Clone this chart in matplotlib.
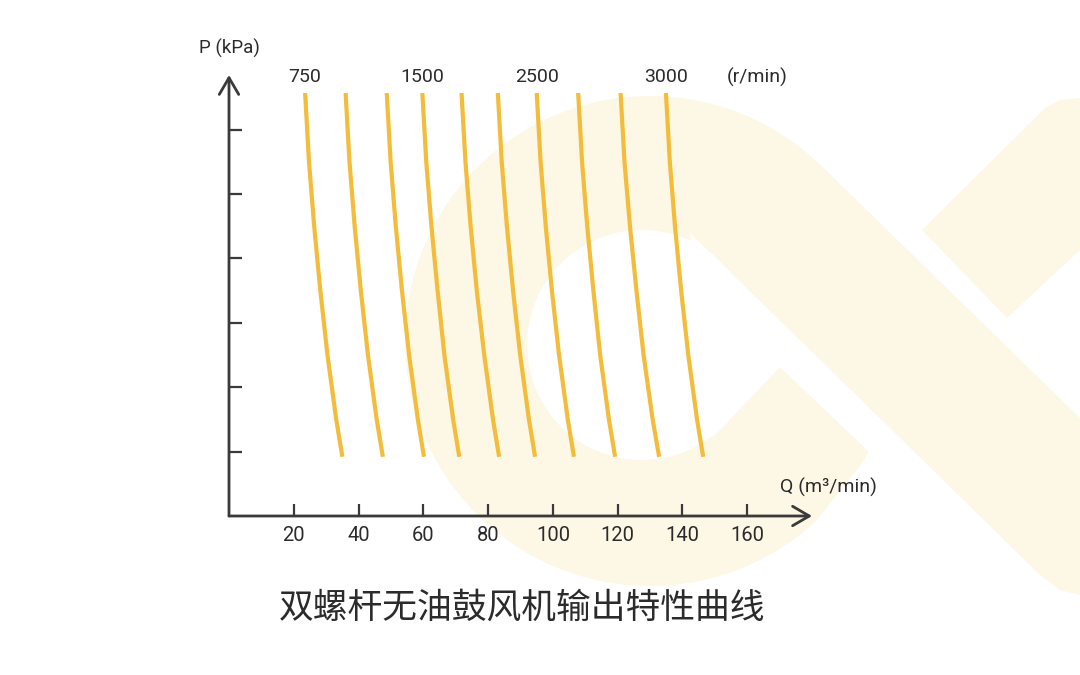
# twin-screw oil-free blower output curves, redrawn from the reference image

import matplotlib
matplotlib.use("Agg")
import matplotlib.pyplot as plt
from matplotlib.patches import Circle, Polygon

# pressure levels shared by every curve (kPa axis, unlabeled)
pressure = [6.57, 5.5, 4.5, 3.5, 2.5, 1.5, 0.92]

# flow (m3/min), top to bottom
flow_curves = [
    [23.5, 24.7, 26.3, 28.2, 30.4, 33.1, 35.0],
    [36.0, 37.2, 38.8, 40.7, 42.9, 45.6, 47.5],
    [48.7, 49.9, 51.5, 53.4, 55.6, 58.3, 60.2],
    [59.7, 60.9, 62.5, 64.4, 66.5, 69.2, 71.1],
    [71.8, 73.0, 74.6, 76.5, 78.8, 81.5, 83.4],
    [83.0, 84.2, 85.8, 87.7, 89.9, 92.6, 94.5],
    [95.0, 96.2, 97.8, 99.7, 101.9, 104.6, 106.5],
    [107.8, 109.0, 110.6, 112.5, 114.6, 117.3, 119.2],
    [120.9, 122.1, 123.8, 125.8, 128.0, 130.8, 132.8],
    [134.9, 136.1, 137.7, 139.6, 141.8, 144.5, 146.4],
]

# speed labels and the curve each one sits over
speed_labels = ["750", "1500", "2500", "3000"]
speed_label_curve = [0, 3, 6, 9]

x_ticks = [20, 40, 60, 80, 100, 120, 140, 160]
y_ticks = [1, 2, 3, 4, 5, 6]

title = "双螺杆无油鼓风机输出特性曲线"

curve_color = "#F3BC3B"
axis_color = "#3a3a3a"
text_color = "#2b2b2b"
wm_color = "#FDF7E6"
num_font = ["Roboto", "DejaVu Sans"]

fig = plt.figure(figsize=(10.8, 6.75), dpi=100, facecolor="white")

# faint logo watermark behind the chart, in pixel coordinates
bg = fig.add_axes([0, 0, 1, 1], zorder=0)
bg.set_xlim(0, 1080)
bg.set_ylim(675, 0)
bg.axis("off")
bg.add_patch(Circle((650, 341), 245, color=wm_color, lw=0))
bg.add_patch(Circle((642, 345), 115, color="white", lw=0))
bg.add_patch(Polygon([(713, 437), (780, 367), (700, 291), (660, 400)], color="white", lw=0))
bg.add_patch(Polygon([(690, 233), (950, 486), (950, 529), (700, 291)], color="white", lw=0))
bg.add_patch(Polygon([(870, 453), (960, 540), (880, 640), (793, 550)], color="white", lw=0))
bg.add_patch(Polygon([(821, 165.5), (1100, 437.5), (1100, 600), (1060, 590),
                      (1040, 575), (700, 242)], color=wm_color, lw=0))
bg.add_patch(Polygon([(922, 230), (1007, 318), (1080, 250), (1080, 98),
                      (1060, 100), (1045, 108)], color=wm_color, lw=0))

# main chart
ax = fig.add_axes([229 / 1080, 1 - 516 / 675, 583 / 1080, 441 / 675], zorder=1)
ax.set_facecolor("none")
ax.set_xlim(0, 180)
ax.set_ylim(0, 6.85)

for q in flow_curves:
    ax.plot(q, pressure, color=curve_color, lw=3, solid_capstyle="butt")

for lab, idx in zip(speed_labels, speed_label_curve):
    ax.text(flow_curves[idx][0], 6.82, lab, ha="center", va="center",
            fontsize=14, color=text_color, family=num_font)
ax.text(163, 6.82, "(r/min)", ha="center", va="center",
        fontsize=14, color=text_color, family=num_font)

for s in ax.spines.values():
    s.set_visible(False)

arrow = dict(arrowstyle="->,head_length=0.6,head_width=0.35", lw=2,
             color=axis_color, shrinkA=0, shrinkB=0, mutation_scale=20)
ax.annotate("", xy=(1, 0), xytext=(0, 0), xycoords="axes fraction", arrowprops=arrow)
ax.annotate("", xy=(0, 1), xytext=(0, 0), xycoords="axes fraction", arrowprops=arrow)

ax.set_xticks(x_ticks)
ax.set_xticklabels([str(t) for t in x_ticks], family=num_font)
ax.set_yticks(y_ticks)
ax.set_yticklabels([])
ax.tick_params(direction="in", length=9, width=1.6, color=axis_color,
               labelsize=14.5, labelcolor=text_color, pad=7)

ax.text(0, 7.27, "P (kPa)", ha="center", va="center", fontsize=13.5,
        color=text_color, family=num_font)
ax.text(185, 0.45, "Q (m³/min)", ha="center", va="center", fontsize=14,
        color=text_color, family=num_font)

fig.text(0.483, 0.099, title, ha="center", va="center", fontsize=25,
         color=text_color, family=["Noto Sans CJK SC", "DejaVu Sans"])

fig.savefig("out.png", dpi=100, facecolor="white")
